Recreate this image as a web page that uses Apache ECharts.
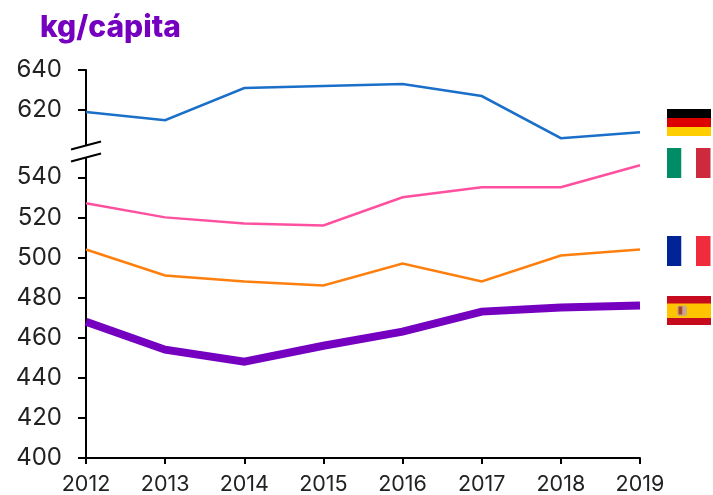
<!DOCTYPE html>
<html>
<head>
<meta charset="utf-8">
<style>html,body{margin:0;padding:0;background:#fff}#main{width:713px;height:495px}</style>
<script src="https://cdn.jsdelivr.net/npm/echarts@6/dist/echarts.min.js"></script>
</head>
<body>
<div id="main"></div>
<script>
const years = ['2012', '2013', '2014', '2015', '2016', '2017', '2018', '2019'];
const yTicks = [400, 420, 440, 460, 480, 500, 520, 540, 620, 640];
const alemania = [619, 615, 631, 632, 633, 627, 606, 609];
const italia = [527, 520, 517, 516, 530, 535, 535, 546];
const francia = [504, 491, 488, 486, 497, 488, 501, 504];
const espana = [468, 454, 448, 456, 463, 473, 475, 476];

const font = 'Inter, Roboto, sans-serif';

function line(name, data, color, width) {
  return {
    name: name,
    type: 'line',
    data: data,
    symbol: 'none',
    smooth: false,
    lineStyle: { color: color, width: width, join: 'miter' }
  };
}

// bandera de tres franjas
function flag(x, y, w, h, colors, vertical) {
  return colors.map((c, i) => ({
    type: 'rect',
    shape: vertical
      ? { x: x + i * w / 3, y: y, width: w / 3, height: h }
      : { x: x, y: y + i * h / 3, width: w, height: h / 3 },
    style: { fill: c }
  }));
}

const chartObj = echarts.init(document.getElementById('main'));
chartObj.setOption({
  animation: false,
  title: {
    text: 'kg/cápita',
    left: 35,
    top: 8,
    textStyle: { color: '#7500c0', fontSize: 30, fontWeight: 800, fontFamily: font }
  },
  grid: { left: 86, right: 73, top: 70, bottom: 37, outerBoundsMode: 'none' },
  xAxis: {
    type: 'category',
    data: years,
    boundaryGap: false,
    axisLine: { lineStyle: { color: '#000', width: 2 } },
    axisTick: { show: true, length: 6, lineStyle: { color: '#000', width: 2 } },
    axisLabel: { color: '#222', fontSize: 21.5, fontFamily: font, margin: 16, interval: 0 }
  },
  yAxis: {
    type: 'value',
    min: 400,
    max: 640,
    interval: 20,
    breaks: [{ start: 555, end: 602, gap: 0.5 }],
    breakArea: { show: false },
    splitLine: { show: false },
    axisLine: { show: true, lineStyle: { color: '#000', width: 2 } },
    axisTick: { show: true, length: 8, customValues: yTicks, lineStyle: { color: '#000', width: 2 } },
    axisLabel: { color: '#222', fontSize: 24, fontFamily: font, margin: 24, customValues: yTicks }
  },
  series: [
    line('Alemania', alemania, '#1a6fc9', 2.5),
    line('Italia', italia, '#ff50a0', 2.5),
    line('Francia', francia, '#ff7f0e', 2.5),
    line('España', espana, '#7500c0', 8)
  ],
  graphic: [
    // corte del eje
    { type: 'rect', shape: { x: 82, y: 146, width: 9, height: 12 }, style: { fill: '#fff' }, z: 10 },
    { type: 'line', shape: { x1: 71, y1: 149.5, x2: 101, y2: 141.5 }, style: { stroke: '#000', lineWidth: 2 }, z: 11 },
    { type: 'line', shape: { x1: 71, y1: 161.5, x2: 101, y2: 153.5 }, style: { stroke: '#000', lineWidth: 2 }, z: 11 }
  ].concat(
    flag(667, 109, 44, 27, ['#000000', '#dd0000', '#ffce00'], false),
    flag(667, 148, 43.5, 30, ['#008c64', '#ffffff', '#cd2a3e'], true),
    flag(667, 236, 43.5, 30, ['#002395', '#ffffff', '#f02b3c'], true),
    [
      { type: 'rect', shape: { x: 667, y: 296, width: 44, height: 29 }, style: { fill: '#c60b1e' } },
      { type: 'rect', shape: { x: 667, y: 303.5, width: 44, height: 14.5 }, style: { fill: '#ffc400' } },
      // escudo
      { type: 'rect', shape: { x: 677, y: 305.5, width: 10, height: 10.5, r: 2 }, style: { fill: '#cfae6a' } },
      { type: 'rect', shape: { x: 678.5, y: 306.5, width: 4, height: 8 }, style: { fill: '#a8452a' } },
      { type: 'rect', shape: { x: 682.5, y: 306.5, width: 3, height: 8 }, style: { fill: '#c9a0a8' } }
    ]
  )
});
</script>
</body>
</html>
